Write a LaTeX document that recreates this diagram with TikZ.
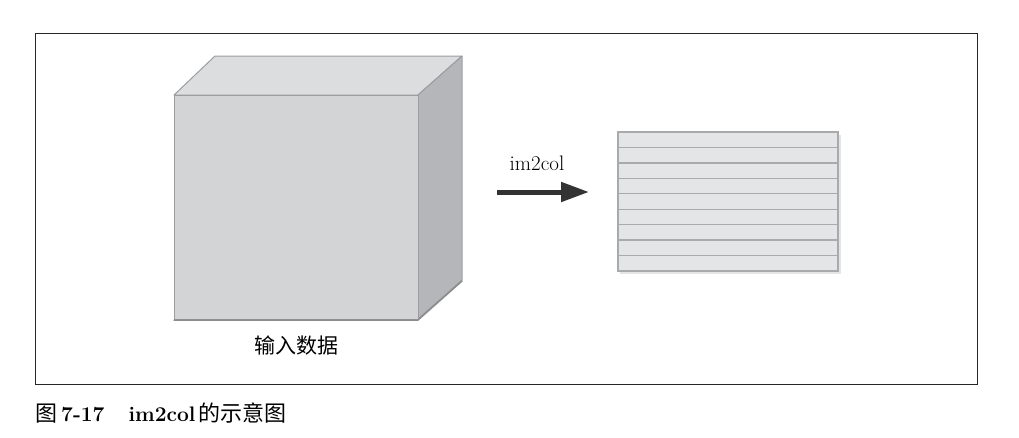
\documentclass[tikz,border=0pt]{standalone}
\usepackage{fontspec}
\newfontfamily\cjk{Noto Sans CJK SC}
\usetikzlibrary{arrows.meta}
\definecolor{frontc}{HTML}{D3D4D6}
\definecolor{topc}{HTML}{DCDDDF}
\definecolor{sidec}{HTML}{B5B6B9}
\definecolor{edgec}{HTML}{9C9D9F}
\definecolor{rowc}{HTML}{E4E5E7}
\definecolor{rowedge}{HTML}{A9AAAC}
\definecolor{arrowc}{HTML}{333333}
\begin{document}
\begin{tikzpicture}[x=1pt,y=-1pt,
  face/.style={draw=edgec,line width=1pt,line join=round},
  rowbox/.style={draw=rowedge,line width=1.3pt,fill=rowc},
  bigarrow/.style={draw=arrowc,line width=5pt,-{Triangle[length=28pt,width=19pt]}},
  lbl/.style={inner sep=0pt,font=\fontsize{21}{25}\selectfont}]
\useasboundingbox (0,0) rectangle (1019,437);
% frame
\draw[line width=1pt,draw=black!85] (35,33) rectangle (977,384);
% cube
\draw[face,fill=topc] (174,95) -- (215,56) -- (462,56) -- (418,95) -- cycle;
\draw[face,fill=sidec] (418,95) -- (462,56) -- (462,280) -- (418,319) -- cycle;
\draw[face,fill=frontc] (174,95) rectangle (418,319);
\draw[draw=black!45,line width=1.5pt,line cap=round] (174,320) -- (418,320) -- (462,281);
\node[lbl] (inlbl) at (296,346) {\cjk 输入数据};
% arrow
\coordinate (as) at (497,192);
\coordinate (ae) at (589,192);
\draw[bigarrow] (as) -- (ae);
\node[lbl] (im) at (537,163) {im2col};
% matrix
\fill[black!10] (620,135) rectangle (841,274);
\foreach \i in {0,...,8}{
  \draw[rowbox] (618,{132+\i*15.444}) rectangle (838,{132+(\i+1)*15.444});
}
\draw[draw=rowedge,line width=1.5pt] (618,132) rectangle (838,271);
% caption
\node[anchor=base west,inner sep=0pt,font=\fontsize{21}{25}\selectfont] (cap) at (35,421)
  {{\cjk\fontsize{22}{25}\selectfont 图}\hspace{4pt}\textbf{7-17}\hspace{24pt}\textbf{im2col}\hspace{3pt}{\cjk\fontsize{22}{25}\selectfont 的示意图}};
\end{tikzpicture}
\end{document}
